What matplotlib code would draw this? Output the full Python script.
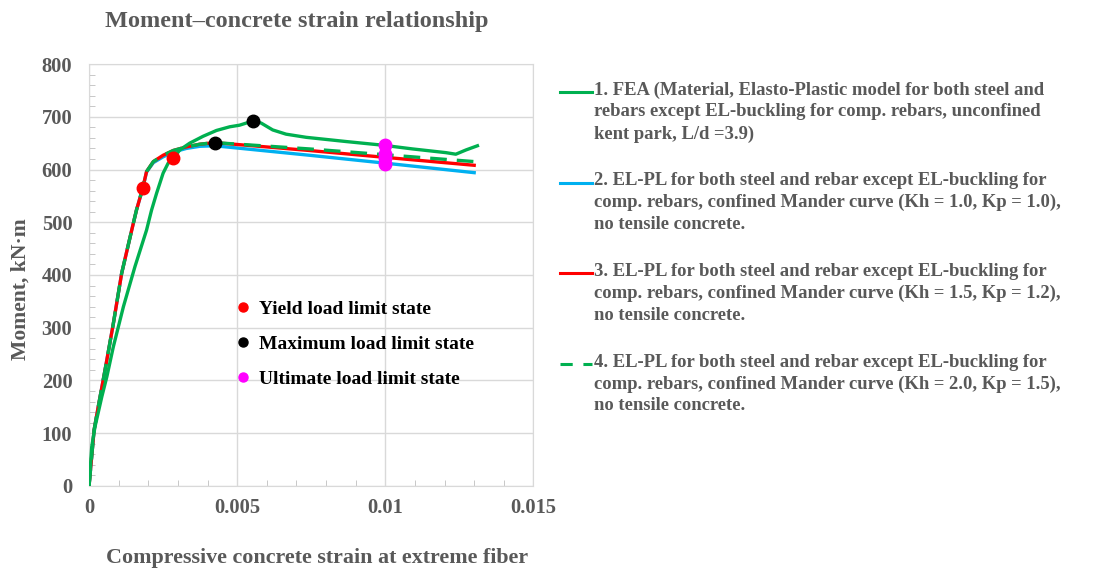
import matplotlib.pyplot as plt
from matplotlib.lines import Line2D
from matplotlib.ticker import MultipleLocator

plt.rcParams['font.family'] = ['Liberation Serif', 'DejaVu Serif']
plt.rcParams['font.weight'] = 'bold'

# FEA curve (model 1)
fea_strain = [0, 0.00009, 0.0002, 0.00043, 0.0006, 0.00082, 0.00116, 0.00155, 0.00194,
              0.00211, 0.00228, 0.0025, 0.00267, 0.00285, 0.00306, 0.0034, 0.00385,
              0.0043, 0.00475, 0.00508, 0.00536, 0.00555, 0.00581, 0.0062, 0.00665,
              0.00733, 0.00868, 0.00993, 0.01092, 0.01204, 0.01238, 0.01272, 0.01311]
fea_moment = [0, 74, 112, 169, 207, 264, 340, 416, 485,
              523, 555, 593, 612, 621, 637, 650, 663,
              674, 681, 684, 689, 692, 688, 675, 667,
              661, 653, 646, 639, 632, 629, 637, 645]

# sectional models 2-4 share the rising branch
model_strain = [0, 0.00007, 0.00017, 0.00031, 0.00054, 0.00082, 0.0011, 0.00144, 0.0016,
                0.00181, 0.00194, 0.00217, 0.0025, 0.00284, 0.00329, 0.00374, 0.00424,
                0.00744, 0.01, 0.013]
blue_moment = [0, 44, 106, 150, 220, 308, 403, 485, 523,
               564, 595, 613, 624, 633, 640, 644, 645,
               627, 612, 594]
red_moment = [0, 44, 106, 150, 220, 308, 403, 485, 523,
              564, 596, 615, 627, 636, 643, 648, 651,
              636, 623, 608]
dash_moment = [0, 44, 106, 150, 220, 308, 403, 485, 523,
               564, 596, 615, 627, 636, 643, 648, 651,
               639, 628, 615]

yield_strain = [0.00181, 0.00285]
yield_moment = [565, 621]
max_strain = [0.00424, 0.00555]
max_moment = [651, 692]
ult_strain = [0.01, 0.01, 0.01, 0.01]
ult_moment = [646, 629, 622, 611]

labels = [
    "1. FEA (Material, Elasto-Plastic model for both steel and\n"
    "rebars except EL-buckling for comp. rebars, unconfined\n"
    "kent park, L/d =3.9)",
    "2. EL-PL for both steel and rebar except EL-buckling for\n"
    "comp. rebars, confined Mander curve (Kh = 1.0, Kp = 1.0),\n"
    "no tensile concrete.",
    "3. EL-PL for both steel and rebar except EL-buckling for\n"
    "comp. rebars, confined Mander curve (Kh = 1.5, Kp = 1.2),\n"
    "no tensile concrete.",
    "4. EL-PL for both steel and rebar except EL-buckling for\n"
    "comp. rebars, confined Mander curve (Kh = 2.0, Kp = 1.5),\n"
    "no tensile concrete.",
]
point_labels = ["Yield load limit state", "Maximum load limit state", "Ultimate load limit state"]

green = "#00B050"
blue = "#00B0F0"
red = "#FF0000"
magenta = "#FF00FF"
gray = "#595959"

fig = plt.figure(figsize=(10.94, 5.70), dpi=100)
ax = fig.add_axes([0.0814, 0.1474, 0.4062, 0.7403])

lw = 2.4
ax.plot(model_strain, blue_moment, color=blue, lw=lw, zorder=2)
ax.plot(model_strain, red_moment, color=red, lw=lw, zorder=3)
ax.plot(model_strain, dash_moment, color=green, lw=lw, dashes=(5, 3), zorder=4)
ax.plot(fea_strain, fea_moment, color=green, lw=lw, zorder=5)

ms = 9
ax.plot(yield_strain, yield_moment, 'o', color=red, ms=ms, zorder=6)
ax.plot(max_strain, max_moment, 'o', color='black', ms=ms, zorder=6)
ax.plot(ult_strain, ult_moment, 'o', color=magenta, ms=ms, zorder=6)

ax.set_xlim(0, 0.015)
ax.set_ylim(0, 800)
ax.xaxis.set_minor_locator(MultipleLocator(0.001))
ax.yaxis.set_major_locator(MultipleLocator(100))
ax.yaxis.set_minor_locator(MultipleLocator(20))
ax.set_xticks([0, 0.005, 0.01, 0.015])
ax.set_xticklabels(["0", "0.005", "0.01", "0.015"])
ax.grid(True, which='major', color='#D9D9D9', lw=1)
ax.set_axisbelow(True)
for s in ax.spines.values():
    s.set_color('#D9D9D9')
ax.tick_params(which='both', direction='in', color='#BFBFBF', labelcolor=gray, labelsize=14.8)
ax.tick_params(which='major', length=0, pad=9)
ax.tick_params(which='minor', length=4)
ax.tick_params(axis='y', which='major', pad=12)
for t in ax.get_xticklabels() + ax.get_yticklabels():
    t.set_fontweight('bold')

ax.set_xlabel("Compressive concrete strain at extreme fiber", fontsize=15.8, color=gray,
              fontweight='bold', va='center')
ax.xaxis.set_label_coords(0.512, -0.171)
ax.set_ylabel("Moment, kN·m", fontsize=15.6, color=gray, fontweight='bold', va='center')
ax.yaxis.set_label_coords(-0.155, 0.467)
fig.text(0.2715, 0.963, "Moment–concrete strain relationship", ha='center', va='center',
         fontsize=17.5, color=gray, fontweight='bold')

# marker legend inside the plot
handles = [Line2D([], [], ls='none', marker='o', color=c, ms=6.5) for c in [red, 'black', magenta]]
ax.legend(handles, point_labels, loc='upper left', bbox_to_anchor=(0.296, 0.482), frameon=False,
          handlelength=0.5, handletextpad=0.55, labelspacing=0.9, prop={'size': 14, 'weight': 'bold'})

# series legend on the right, drawn by hand so the handle sits at the first text line
styles = [(green, None), (blue, None), (red, None), (green, (4, 3.5))]
y0 = 1 - 92 / 570
step = 90.7 / 570
for i, (lab, (c, d)) in enumerate(zip(labels, styles)):
    y = y0 - i * step
    ln = Line2D([560 / 1094, 592 / 1094], [y, y], color=c, lw=2.2, transform=fig.transFigure)
    if d is not None:
        ln.set_dashes(d)
    fig.add_artist(ln)
    fig.text(594 / 1094, y + 10.5 / 570, lab, ha='left', va='top', fontsize=13.4, color=gray,
             fontweight='bold', linespacing=1.36, transform=fig.transFigure)

fig.savefig("out.png", dpi=100)
